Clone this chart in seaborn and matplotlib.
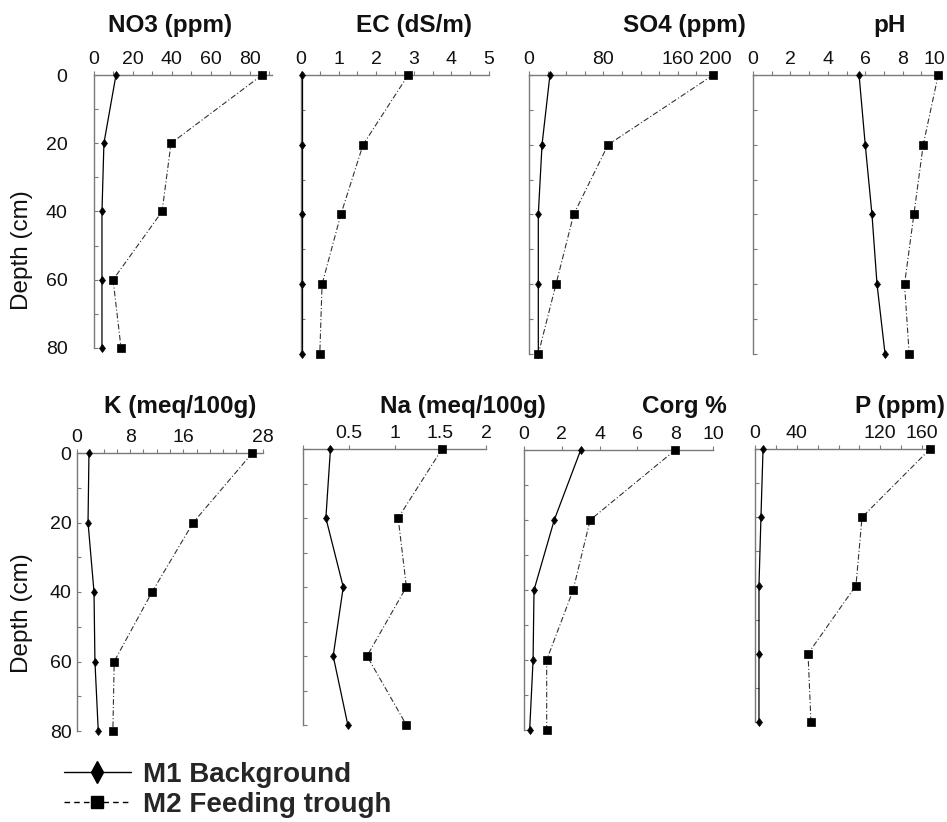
import numpy as np
import pandas as pd
import matplotlib
matplotlib.use("Agg")
import matplotlib.pyplot as plt
from matplotlib.lines import Line2D
from matplotlib.ticker import FixedLocator
from matplotlib.transforms import ScaledTranslation
import seaborn as sns

# ---------------- data ----------------
depth = [0, 20, 40, 60, 80]
panels = ["NO3 (ppm)", "EC (dS/m)", "SO4 (ppm)", "pH",
          "K (meq/100g)", "Na (meq/100g)", "Corg %", "P (ppm)"]

m1_no3 = [11.3, 5.1, 4.1, 4.1, 4.1]
m2_no3 = [86.4, 39.6, 35.0, 9.8, 13.9]
m1_ec = [0.02, 0.02, 0.02, 0.02, 0.02]
m2_ec = [2.85, 1.65, 1.06, 0.56, 0.50]
m1_so4 = [22.5, 14.0, 10.0, 10.0, 10.0]
m2_so4 = [198.0, 85.0, 48.0, 29.0, 10.0]
m1_ph = [5.67, 6.0, 6.36, 6.63, 7.06]
m2_ph = [9.9, 9.1, 8.6, 8.1, 8.35]
m1_k = [1.8, 1.66, 2.56, 2.7, 3.2]
m2_k = [26.4, 17.5, 11.3, 5.6, 5.4]
m1_na = [0.30, 0.25, 0.44, 0.33, 0.49]
m2_na = [1.52, 1.04, 1.13, 0.70, 1.13]
m1_corg = [3.0, 1.6, 0.53, 0.48, 0.3]
m2_corg = [8.0, 3.5, 2.6, 1.2, 1.2]
m1_p = [7.7, 5.7, 3.8, 3.8, 3.8]
m2_p = [167.6, 102.5, 96.7, 50.8, 53.6]

m1_series = [m1_no3, m1_ec, m1_so4, m1_ph, m1_k, m1_na, m1_corg, m1_p]
m2_series = [m2_no3, m2_ec, m2_so4, m2_ph, m2_k, m2_na, m2_corg, m2_p]

# tick labels of the top value axes
xmajor = [[0, 20, 40, 60, 80], [0, 1, 2, 3, 4, 5], [0, 80, 160, 200],
          [0, 2, 4, 6, 8, 10], [0, 8, 16, 28], [0.5, 1, 1.5, 2],
          [0, 2, 4, 6, 8, 10], [0, 40, 120, 160]]
xlabels = [["0", "20", "40", "60", "80"], ["0", "1", "2", "3", "4", "5"],
           ["0", "80", "160", "200"], ["0", "2", "4", "6", "8", "10"],
           ["0", "8", "16", "28"], ["0.5", "1", "1.5", "2"],
           ["0", "2", "4", "6", "8", "10"], ["0", "40", "120", "160"]]
xminor_step = [10, 0.5, 20, 1, 2, 0.5, 2, 20]
xmax = [91.5, 5.0, 201.0, 10.05, 28.0, 2.0, 10.0, 169.5]
depth_major = [0, 20, 40, 60, 80]
depth_labels = ["0", "20", "40", "60", "80"]
depth_minor = [10, 30, 50, 70]
legend_labels = ["M1 Background", "M2 Feeding trough"]

# ---------------- layout ----------------
W, H = 947, 822
sns.set_theme(style="white")
plt.rcParams["font.family"] = ["Liberation Sans", "DejaVu Sans"]

fig = plt.figure(figsize=(W / 100, H / 100), dpi=100)
fig.patch.set_facecolor("white")

# pixel boxes (left, top, right, bottom)
boxes = [(94, 75, 272, 348), (301, 75, 489, 354), (529, 75, 716, 354), (753, 75, 941, 354),
         (77, 453, 263, 731), (303, 449, 486, 725), (524, 450, 713, 730), (755, 449, 932, 722)]
title_pos = [(170, 32), (414, 32), (684, 32), (890, 32),
             (180, 413), (463, 413), (684, 413), (900, 413)]

spine_col = "#7a7a7a"

for i in range(8):
    l, t, r, b = boxes[i]
    ax = fig.add_axes([l / W, 1 - b / H, (r - l) / W, (b - t) / H])
    ax.set_facecolor("none")
    d1 = pd.DataFrame({"value": m1_series[i], "depth": depth})
    d2 = pd.DataFrame({"value": m2_series[i], "depth": depth})
    sns.lineplot(data=d1, x="value", y="depth", orient="y", estimator=None, ax=ax,
                 color="black", lw=0.9, marker="d", markersize=4.5,
                 markeredgecolor="black", markeredgewidth=0.5, clip_on=False, zorder=5)
    sns.lineplot(data=d2, x="value", y="depth", orient="y", estimator=None, ax=ax,
                 color="#333333", lw=0.8, marker="s", markersize=5.5,
                 markerfacecolor="black", markeredgecolor="black", markeredgewidth=0.5,
                 clip_on=False, zorder=5, dashes=False)
    for ln in ax.lines[-1:]:
        ln.set_linestyle((0, (5, 2, 1, 2)))
    ax.set_xlim(0, xmax[i])
    ax.set_ylim(80, 0)
    ax.set_xlabel("")
    ax.set_ylabel("")
    for s in ["right", "bottom"]:
        ax.spines[s].set_visible(False)
    for s in ["left", "top"]:
        ax.spines[s].set_color(spine_col)
        ax.spines[s].set_linewidth(1.0)
    ax.xaxis.tick_top()
    ax.xaxis.set_major_locator(FixedLocator(xmajor[i]))
    ax.set_xticklabels(xlabels[i])
    step = xminor_step[i]
    ax.xaxis.set_minor_locator(FixedLocator(list(np.arange(0, xmax[i] + 1e-9, step))))
    ax.tick_params(axis="x", which="both", direction="out", length=3, width=0.8,
                   color=spine_col, top=True, bottom=False, labeltop=True,
                   labelbottom=False, labelsize=14, pad=2, labelcolor="#111111")
    if i == 3:
        lab = ax.get_xticklabels(which="major")[-1]
        lab.set_transform(lab.get_transform() +
                          ScaledTranslation(-4 / 72, 0, fig.dpi_scale_trans))
    ax.yaxis.set_major_locator(FixedLocator(depth_major))
    ax.yaxis.set_minor_locator(FixedLocator(depth_minor))
    first_col = i in (0, 4)
    if first_col:
        ax.set_yticklabels(depth_labels)
    ax.tick_params(axis="y", which="both", direction="in", length=3, width=0.8,
                   color=spine_col, left=True, right=False, labelleft=first_col,
                   labelsize=14, pad=(19 if i == 0 else 4), labelcolor="#111111")
    tx, ty = title_pos[i]
    fig.text(tx / W, 1 - ty / H, panels[i], ha="center", va="baseline",
             fontsize=17.5, fontweight="bold", color="#111111")

for cy in (250, 613):
    fig.text(22 / W, 1 - cy / H, "Depth (cm)", rotation=90, ha="center", va="center",
             fontsize=17.5, color="#111111")

handles = [Line2D([], [], color="black", lw=1.0, marker="d", markersize=11,
                  markerfacecolor="black", markeredgecolor="black"),
           Line2D([], [], color="black", lw=1.0, linestyle=(0, (4, 3)), marker="s",
                  markersize=8, markerfacecolor="black", markeredgecolor="black")]
fig.legend(handles, legend_labels, loc="upper left",
           bbox_to_anchor=(64 / W, 1 - 762 / H), frameon=False,
           prop={"weight": "bold", "size": 20}, handlelength=2.4,
           handletextpad=0.45, labelspacing=0.15, borderpad=0, borderaxespad=0)

fig.savefig("out.png", dpi=100, facecolor="white")
